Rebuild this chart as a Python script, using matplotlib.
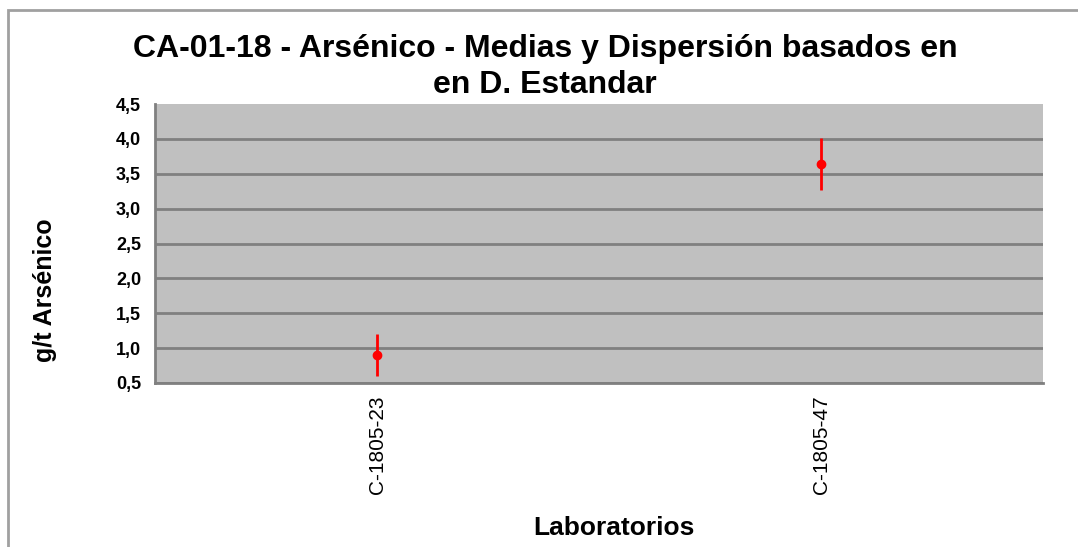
import matplotlib
matplotlib.use("Agg")
import matplotlib.pyplot as plt
from matplotlib.patches import Rectangle
from matplotlib.ticker import FuncFormatter

laboratorios = ["C-1805-23", "C-1805-47"]
medias = [0.90, 3.64]
desv_std = [0.30, 0.37]
y_ticks = [0.5, 1.0, 1.5, 2.0, 2.5, 3.0, 3.5, 4.0, 4.5]

plt.rcParams['font.family'] = ['Liberation Sans', 'DejaVu Sans']

fig = plt.figure(figsize=(10.78, 5.47), dpi=100)
ax = fig.add_axes([155/1078, 1-383/547, (1043-155)/1078, (383-104)/547])

# outer chart border (left and top visible)
fig.patches.append(Rectangle((8/1078, -0.1), 1.2, 1-10/547+0.1, transform=fig.transFigure,
                             fill=False, edgecolor='#a0a0a0', linewidth=2))

ax.set_facecolor('#c0c0c0')
x = list(range(len(laboratorios)))
ax.errorbar(x, medias, yerr=desv_std, fmt='o', color='#ff0000', ecolor='#ff0000',
            markersize=6, elinewidth=2, capsize=0, zorder=3)

ax.set_xlim(-0.5, len(laboratorios) - 0.5)
ax.set_ylim(0.5, 4.5)
ax.set_yticks(y_ticks)
ax.yaxis.set_major_formatter(FuncFormatter(lambda v, p: f"{v:.1f}".replace('.', ',')))
ax.set_xticks(x)
ax.set_xticklabels(laboratorios, rotation=90, fontsize=15)
ax.tick_params(axis='y', labelsize=13, length=0, pad=10)
ax.tick_params(axis='x', length=0, pad=9)
for t in ax.get_yticklabels():
    t.set_fontweight('bold')

ax.grid(axis='y', color='#808080', linewidth=2)
gl = ax.get_ygridlines()
gl[-1].set_visible(False)
ax.set_axisbelow(True)
for s in ['top', 'right']:
    ax.spines[s].set_visible(False)
for s in ['left', 'bottom']:
    ax.spines[s].set_color('#808080')
    ax.spines[s].set_linewidth(2)

fig.text(545/1078, 1-67/547, "CA-01-18 - Arsénico - Medias y Dispersión basados en\nen D. Estandar",
         ha='center', va='center', fontsize=23, fontweight='bold', linespacing=1.25)
fig.text(45/1078, 1-290/547, "g/t Arsénico", rotation=90, ha='center', va='center',
         fontsize=18, fontweight='bold')
fig.text(614/1078, 1-528/547, "Laboratorios", ha='center', va='center',
         fontsize=19, fontweight='bold')

fig.savefig("out.png", dpi=100)
